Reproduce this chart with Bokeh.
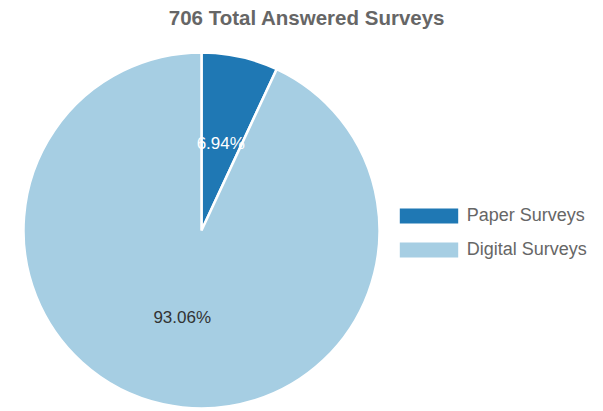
import math
from bokeh.plotting import figure
from bokeh.models import ColumnDataSource, Range1d, Legend, LegendItem
from bokeh.core.properties import value
from bokeh.embed import file_html
from bokeh.resources import INLINE

title_text = "706 Total Answered Surveys"
categories = ["Paper Surveys", "Digital Surveys"]
shares = [6.94, 93.06]
colors = ["#1f78b4", "#a6cee3"]
label_colors = ["#ffffff", "#333333"]

W, H = 603, 411
cx, cy, r = 201, H - 230, 178

total = sum(shares)
starts, ends, lx, ly, labels = [], [], [], [], []
cum = 0.0
for s in shares:
    a0 = cum / total * 2 * math.pi
    cum += s
    a1 = cum / total * 2 * math.pi
    starts.append(math.pi / 2 - a1)
    ends.append(math.pi / 2 - a0)
    mid = (a0 + a1) / 2
    lx.append(cx + 0.5 * r * math.sin(mid))
    ly.append(cy + 0.5 * r * math.cos(mid))
    labels.append(f"{s:.2f}%")

src = ColumnDataSource(dict(name=categories, start=starts, end=ends, color=colors,
                            lx=lx, ly=ly, label=labels, lcolor=label_colors,
                            px=[cx] * len(categories), py=[cy] * len(categories)))

p = figure(width=W, height=H, x_range=Range1d(0, W), y_range=Range1d(0, H),
           output_backend="svg", toolbar_location=None, min_border=0)
p.axis.visible = False
p.grid.visible = False
p.outline_line_color = None

p.wedge(x=cx, y=cy, radius=r, start_angle="start", end_angle="end",
        fill_color="color", line_color="white", line_width=2.5, source=src)

# zero-size proxies for legend swatches (no outline)
proxy = p.rect(x="px", y="py", width=0, height=0, fill_color="color",
               line_color=None, source=src)

p.text(x="lx", y="ly", text="label", text_color="lcolor", text_align="center",
       text_baseline="middle", text_font=value("Liberation Sans"),
       text_font_size="17px", source=src)

p.text(x=[306.5], y=[H - 17], text=[title_text], text_color="#666666",
       text_align="center", text_baseline="middle", text_font=value("Liberation Sans"),
       text_font_style="bold", text_font_size="20.5px")

items = [LegendItem(label=categories[i], renderers=[proxy], index=i) for i in range(len(categories))]
legend = Legend(items=items, location=(391.7, 151.5), padding=0, margin=0,
                border_line_color=None, background_fill_alpha=0,
                glyph_width=73, glyph_height=19, label_height=20, spacing=13,
                label_standoff=2, label_text_font="Liberation Sans",
                label_text_font_size="18px", label_text_color="#666666")
p.add_layout(legend, "center")

open("out.html", "w").write(file_html(p, INLINE))
